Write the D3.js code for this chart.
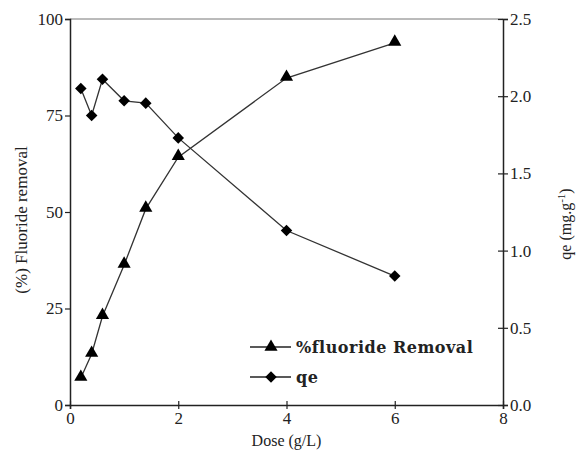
<!DOCTYPE html>
<html>
<head>
<meta charset="utf-8">
<script src="https://cdn.jsdelivr.net/npm/d3@7"></script>
<style>
  body { margin: 0; background: #fff; }
  text { font-family: "Liberation Serif", "Times New Roman", serif; fill: #222; }
</style>
</head>
<body>
<div class="chart"></div>
<script>
const dose = [0.2, 0.4, 0.6, 1.0, 1.4, 2.0, 4.0, 6.0];
const removal = [7, 13.2, 23, 36.3, 50.8, 64.2, 84.7, 93.8];
const qe = [2.05, 1.875, 2.11, 1.97, 1.955, 1.73, 1.13, 0.835];
const xTicks = [0, 2, 4, 6, 8];
const leftTicks = [0, 25, 50, 75, 100];
const rightTicks = [0, 0.5, 1.0, 1.5, 2.0, 2.5];

const width = 579;
const height = 453;
const m = {top: 19, right: 76, bottom: 48, left: 70};

const svg = d3.select(".chart")
  .append("svg")
  .attr("width", width)
  .attr("height", height);

const x = d3.scaleLinear().domain([0, 8]).range([m.left, width - m.right]);
const yL = d3.scaleLinear().domain([0, 100]).range([height - m.bottom, m.top]);
const yR = d3.scaleLinear().domain([0, 2.5]).range([height - m.bottom, m.top]);

// top frame line
svg.append("line")
  .attr("x1", x(0)).attr("x2", x(8))
  .attr("y1", yL(100)).attr("y2", yL(100))
  .attr("stroke", "#777").attr("stroke-width", 1);

// x axis
const gx = svg.append("g")
  .attr("transform", `translate(0,${yL(0)})`)
  .call(d3.axisBottom(x).tickValues(xTicks).tickFormat(d3.format("d")).tickSize(4).tickPadding(3));
gx.selectAll(".tick line").attr("y1", -4);

// left axis
const gl = svg.append("g")
  .attr("transform", `translate(${x(0)},0)`)
  .call(d3.axisLeft(yL).tickValues(leftTicks).tickSize(5).tickPadding(2));

// right axis
const gr = svg.append("g")
  .attr("transform", `translate(${x(8)},0)`)
  .call(d3.axisRight(yR).tickValues(rightTicks).tickFormat(d3.format(".1f")).tickSize(5).tickPadding(2));
gr.selectAll(".tick line").attr("x1", -5);

[gx, gl, gr].forEach(g => g.attr("font-family", null).attr("font-size", null));
svg.selectAll(".domain").attr("stroke", "#222").attr("stroke-width", 1.5);
svg.selectAll(".tick line").attr("stroke", "#222").attr("stroke-width", 1.2);
svg.selectAll(".tick text").style("font-size", "17px").attr("fill", "#333");

// axis titles
svg.append("text")
  .attr("x", (x(0) + x(8)) / 2).attr("y", 446)
  .attr("text-anchor", "middle").style("font-size", "16px")
  .text("Dose (g/L)");

svg.append("text")
  .attr("transform", `translate(27,${(yL(0) + yL(100)) / 2 + 8}) rotate(-90)`)
  .attr("text-anchor", "middle").style("font-size", "17px")
  .text("(%) Fluoride removal");

const rt = svg.append("text")
  .attr("transform", `translate(571,${(yL(0) + yL(100)) / 2 + 12}) rotate(-90)`)
  .attr("text-anchor", "middle").style("font-size", "16px");
rt.append("tspan").text("qe (mg.g");
rt.append("tspan").attr("dy", -6).style("font-size", "11px").text("-1");
rt.append("tspan").attr("dy", 6).text(")");

// series
const pts1 = dose.map((d, i) => [d, removal[i]]);
const pts2 = dose.map((d, i) => [d, qe[i]]);

svg.append("path")
  .datum(pts1)
  .attr("fill", "none").attr("stroke", "#333").attr("stroke-width", 1.3)
  .attr("d", d3.line().x(d => x(d[0])).y(d => yL(d[1])));

svg.append("path")
  .datum(pts2)
  .attr("fill", "none").attr("stroke", "#333").attr("stroke-width", 1.3)
  .attr("d", d3.line().x(d => x(d[0])).y(d => yR(d[1])));

const tri = d3.symbol().type(d3.symbolTriangle).size(75);
const dia = d3.symbol().type(d3.symbolDiamond2).size(85);

svg.selectAll(".tri")
  .data(pts1)
  .enter()
  .append("path")
  .attr("class", "tri")
  .attr("transform", d => `translate(${x(d[0])},${yL(d[1]) - 1})`)
  .attr("d", tri())
  .attr("fill", "#000");

svg.selectAll(".dia")
  .data(pts2)
  .enter()
  .append("path")
  .attr("class", "dia")
  .attr("transform", d => `translate(${x(d[0])},${yR(d[1])})`)
  .attr("d", dia())
  .attr("fill", "#000");

// legend
const legend = [
  {label: "%fluoride Removal", sym: tri, y: 347},
  {label: "qe", sym: dia, y: 377}
];
const lg = svg.selectAll(".leg")
  .data(legend)
  .enter()
  .append("g")
  .attr("class", "leg")
  .attr("transform", d => `translate(250,${d.y})`);
lg.append("line")
  .attr("x1", 0).attr("x2", 41).attr("y1", 0).attr("y2", 0)
  .attr("stroke", "#222").attr("stroke-width", 1.3);
lg.append("path")
  .attr("transform", "translate(21,0)")
  .attr("d", d => d.sym())
  .attr("fill", "#000");
lg.append("text")
  .attr("x", 46).attr("y", 6)
  .style("font-family", "'DejaVu Serif', serif")
  .style("font-size", "16px").style("font-weight", "bold")
  .style("letter-spacing", "0.5px")
  .attr("fill", "#111")
  .text(d => d.label);
</script>
</body>
</html>
